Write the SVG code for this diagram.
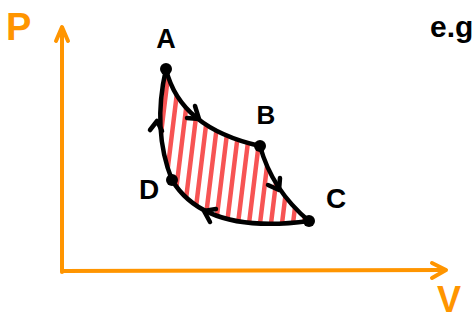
<svg xmlns="http://www.w3.org/2000/svg" width="474" height="322" viewBox="0 0 474 322">
<style>
.axis{fill:none;stroke:#ff9500;stroke-width:4;stroke-linecap:round;stroke-linejoin:round}
.curve{fill:none;stroke:#000;stroke-width:4.5;stroke-linecap:round;stroke-linejoin:round}
.hatch{stroke:#f75454;stroke-width:4.5;stroke-linecap:round}
.lbl{font-family:"Liberation Sans",Arial,sans-serif;font-weight:700;fill:#000}
.olbl{font-family:"Liberation Sans",Arial,sans-serif;font-weight:700;fill:#ff9500}
.dot{fill:#000}
</style>
<defs>
<clipPath id="region">
<path d="M166,69 Q180,128 260,146 Q272,190 309,221 Q205,235 172,180 Q152,130 166,69 Z"/>
</clipPath>
</defs>
<rect width="474" height="322" fill="#fff"/>
<g id="axes">
<path class="axis" d="M62,272 L62,28"/>
<path class="axis" d="M56,41 L62,27 L68,41"/>
<path class="axis" d="M62,271 L444,270"/>
<path class="axis" d="M432,263 L446,270 L432,278"/>
<text class="olbl" x="6" y="40" font-size="38">P</text>
<text class="olbl" x="437" y="312" font-size="36">V</text>
</g>
<g id="hatching" clip-path="url(#region)">
<g class="hatch">
<line x1="170" y1="60" x2="148" y2="240"/>
<line x1="181" y1="60" x2="159" y2="240"/>
<line x1="192" y1="60" x2="170" y2="240"/>
<line x1="203" y1="60" x2="181" y2="240"/>
<line x1="214" y1="60" x2="192" y2="240"/>
<line x1="225" y1="60" x2="203" y2="240"/>
<line x1="236" y1="60" x2="214" y2="240"/>
<line x1="247" y1="60" x2="225" y2="240"/>
<line x1="258" y1="60" x2="236" y2="240"/>
<line x1="269" y1="60" x2="247" y2="240"/>
<line x1="280" y1="60" x2="258" y2="240"/>
<line x1="291" y1="60" x2="269" y2="240"/>
<line x1="302" y1="60" x2="280" y2="240"/>
<line x1="313" y1="60" x2="291" y2="240"/>
<line x1="324" y1="60" x2="302" y2="240"/>
<line x1="335" y1="60" x2="313" y2="240"/>
</g>
</g>
<g id="connectors">
<path id="AB" class="curve" d="M166,69 Q180,128 260,146"/>
<path id="BC" class="curve" d="M260,146 Q272,190 309,221"/>
<path id="CD" class="curve" d="M309,221 Q205,235 172,180"/>
<path id="DA" class="curve" d="M172,180 Q152,130 166,69"/>
<path class="curve" d="M187,118 L199,119 L195,106"/>
<path class="curve" d="M268,185 L279,190 L280,178"/>
<path class="curve" d="M216,209 L204,211 L210,222"/>
<path class="curve" d="M150,130 L157,121 L162,131"/>
</g>
<g id="node-A"><circle class="dot" cx="166" cy="69" r="6"/><text class="lbl" x="166" y="48" font-size="27" text-anchor="middle">A</text></g>
<g id="node-B"><circle class="dot" cx="260" cy="146" r="6"/><text class="lbl" x="266" y="124" font-size="26" text-anchor="middle">B</text></g>
<g id="node-C"><circle class="dot" cx="309" cy="221" r="6"/><text class="lbl" x="336" y="208" font-size="28" text-anchor="middle">C</text></g>
<g id="node-D"><circle class="dot" cx="172" cy="180" r="6"/><text class="lbl" x="149" y="199" font-size="28" text-anchor="middle">D</text></g>
<text class="lbl" x="430" y="37" font-size="30">e.g</text>
</svg>
